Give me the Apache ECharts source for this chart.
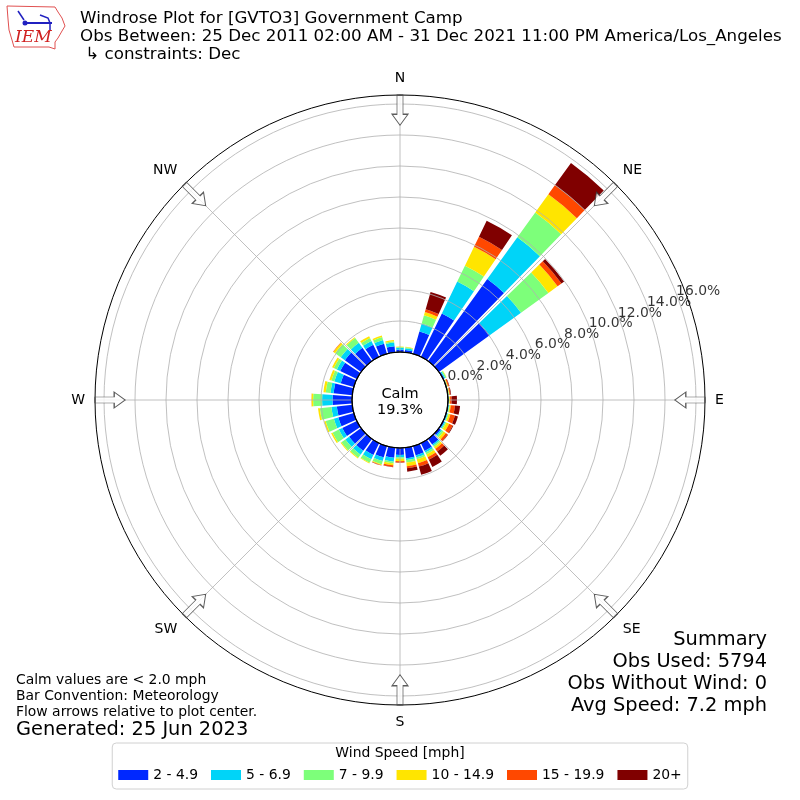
<!DOCTYPE html>
<html>
<head>
<meta charset="utf-8">
<title>Windrose GVTO3</title>
<script src="https://cdn.jsdelivr.net/npm/echarts@6/dist/echarts.min.js"></script>
<style>
  html, body { margin: 0; padding: 0; background: #fff; }
  #chart { width: 800px; height: 800px; }
</style>
</head>
<body>
<div id="chart"></div>
<script>
// direction bins (degrees, centre of each 10 deg sector)
const DIRECTIONS = ['0', '10', '20', '30', '40', '50', '60', '70', '80', '90', '100', '110',
  '120', '130', '140', '150', '160', '170', '180', '190', '200', '210', '220', '230',
  '240', '250', '260', '270', '280', '290', '300', '310', '320', '330', '340', '350'];

const SPEED_BINS = ['2 - 4.9', '5 - 6.9', '7 - 9.9', '10 - 14.9', '15 - 19.9', '20+'];
const SPEED_COLORS = ['#0028ff', '#00d4f8', '#7dff7a', '#ffe500', '#ff4800', '#800000'];

// frequency [%] per direction for each speed bin
const S_2_5 = [0.15, 0.14, 1.50, 3.11, 6.53, 4.04, 0.08, 0.03, 0.03, 0.03, 0.05, 0.06,
  0.08, 0.15, 0.45, 0.55, 0.62, 0.68, 0.45, 0.65, 0.75, 0.85, 0.95, 0.95,
  1.04, 1.04, 1.00, 1.26, 1.21, 0.88, 1.19, 1.29, 1.05, 0.87, 0.68, 0.39];
const S_5_7 = [0.12, 0.12, 0.54, 2.28, 3.32, 2.49, 0.07, 0.02, 0.02, 0.03, 0.04, 0.05,
  0.07, 0.10, 0.10, 0.12, 0.13, 0.12, 0.15, 0.25, 0.25, 0.30, 0.30, 0.30,
  0.25, 0.30, 0.35, 0.67, 0.20, 0.42, 0.24, 0.33, 0.40, 0.27, 0.25, 0.24];
const S_7_10 = [0.05, 0.06, 0.54, 1.14, 1.97, 2.18, 0.08, 0.03, 0.03, 0.03, 0.04, 0.06,
  0.08, 0.12, 0.10, 0.13, 0.13, 0.16, 0.10, 0.12, 0.22, 0.25, 0.25, 0.32,
  0.45, 0.55, 0.75, 0.58, 0.31, 0.20, 0.22, 0.45, 0.39, 0.21, 0.19, 0.09];
const S_10_15 = [0.03, 0.03, 0.22, 1.35, 1.45, 0.73, 0.02, 0.04, 0.04, 0.05, 0.07, 0.12,
  0.20, 0.18, 0.15, 0.20, 0.27, 0.24, 0.15, 0.12, 0.05, 0.05, 0.05, 0.06,
  0.10, 0.10, 0.12, 0.10, 0.15, 0.14, 0.12, 0.13, 0.06, 0.13, 0.10, 0.08];
const S_15_20 = [0, 0, 0.19, 0.73, 0.73, 0.31, 0, 0.07, 0.06, 0.10, 0.27, 0.30,
  0.25, 0.15, 0.20, 0.18, 0.22, 0.13, 0.08, 0.10, 0.02, 0, 0, 0,
  0, 0, 0, 0.01, 0, 0, 0, 0.03, 0, 0, 0, 0];
const S_20 = [0, 0, 1.16, 1.14, 1.76, 0.21, 0, 0.03, 0.04, 0.34, 0.33, 0.20,
  0.05, 0.03, 0.34, 0.52, 0.55, 0.22, 0.02, 0.03, 0.01, 0, 0, 0,
  0, 0, 0, 0, 0, 0, 0, 0, 0, 0, 0, 0];
const SPEED_DATA = [S_2_5, S_5_7, S_7_10, S_10_15, S_15_20, S_20];

const CALM = 19.3;
const RADIUS_TICKS = [0, 2, 4, 6, 8, 10, 12, 14, 16];
const RADIUS_MAX = 16;
const OUTER_MAX = 16.58;          // outer frame of the axes
const COMPASS = ['N', 'NE', 'E', 'SE', 'S', 'SW', 'W', 'NW'];
const ARROW_ANGLES = [0, 45, 90, 135, 180, 225, 270, 315];

const TITLE_LINES = [
  'Windrose Plot for [GVTO3] Government Camp',
  'Obs Between: 25 Dec 2011 02:00 AM - 31 Dec 2021 11:00 PM America/Los_Angeles',
  ' \u21b3 constraints: Dec'
];
const NOTE_LINES = [
  'Calm values are < 2.0 mph',
  'Bar Convention: Meteorology',
  'Flow arrows relative to plot center.'
];
const GENERATED = 'Generated: 25 Jun 2023';
const SUMMARY_LINES = ['Summary', 'Obs Used: 5794', 'Obs Without Wind: 0', 'Avg Speed: 7.2 mph'];

const FONT = 'DejaVu Sans';
const GRID_COLOR = '#b0b0b0';

let chart = echarts.init(document.getElementById('chart'));

let barSeries = SPEED_BINS.map(function(name, i) {
  return {
    name: name,
    type: 'bar',
    coordinateSystem: 'polar',
    polarIndex: 0,
    stack: 'wind',
    barCategoryGap: '16%',
    data: SPEED_DATA[i],
    itemStyle: { color: SPEED_COLORS[i] },
    silent: true,
    z: 2
  };
});

let option = {
  animation: false,
  textStyle: { fontFamily: FONT, color: '#000' },
  polar: [
    { center: ['50%', '50%'], radius: [48, 296] },   // bars
    { center: ['50%', '50%'], radius: [48, 296] },   // circles + r labels
    { center: ['50%', '50%'], radius: [48, 305] },   // spokes, frame, arrows
    { center: ['50%', '50%'], radius: [0, 48] }      // calm circle
  ],
  angleAxis: [{
      polarIndex: 0,
      type: 'category',
      data: DIRECTIONS,
      startAngle: 95,
      clockwise: true,
      show: false
    },
    {
      polarIndex: 1,
      type: 'value',
      min: 0,
      max: 360,
      startAngle: 90,
      clockwise: true,
      show: false
    },
    {
      polarIndex: 2,
      type: 'value',
      min: 0,
      max: 360,
      interval: 45,
      startAngle: 90,
      clockwise: true,
      z: 10,
      axisLine: { lineStyle: { color: '#000', width: 1 } },
      axisTick: { show: false },
      axisLabel: {
        margin: 10,
        fontSize: 14,
        color: '#000',
        fontFamily: FONT,
        formatter: function(v) {
          return COMPASS[Math.round(v / 45) % 8];
        }
      },
      splitLine: { show: true, lineStyle: { color: GRID_COLOR, width: 0.8 } }
    },
    {
      polarIndex: 3,
      type: 'value',
      min: 0,
      max: 360,
      z: 11,
      axisLine: { lineStyle: { color: '#000', width: 1.2 } },
      axisTick: { show: false },
      axisLabel: { show: false },
      splitLine: { show: false }
    }
  ],
  radiusAxis: [{
      polarIndex: 0,
      min: 0,
      max: RADIUS_MAX,
      show: false
    },
    {
      polarIndex: 1,
      min: 0,
      max: RADIUS_MAX,
      interval: 2,
      z: 10,
      axisLine: { show: false },
      axisTick: { show: false },
      axisLabel: { show: false },
      splitLine: { show: true, lineStyle: { color: GRID_COLOR, width: 0.8 } }
    },
    {
      polarIndex: 2,
      min: 0,
      max: OUTER_MAX,
      show: false
    },
    {
      polarIndex: 3,
      min: 0,
      max: 1,
      show: false
    }
  ],
  legend: {
    data: SPEED_BINS,
    left: 'center',
    top: 743,
    icon: 'rect',
    itemWidth: 30,
    itemHeight: 10,
    itemGap: 13,
    padding: [25, 6, 7, 6],
    borderColor: '#d0d0d0',
    borderWidth: 1,
    borderRadius: 4,
    selectedMode: false,
    textStyle: { fontSize: 13.9, color: '#000', fontFamily: FONT }
  },
  series: barSeries.concat([{
      // r tick labels
      type: 'scatter',
      coordinateSystem: 'polar',
      polarIndex: 1,
      data: RADIUS_TICKS.map(function(v) { return [v, 70]; }),
      symbolSize: 1,
      itemStyle: { color: 'rgba(0,0,0,0)' },
      silent: true,
      z: 12,
      label: {
        show: true,
        position: 'inside',
        offset: [20, -7],
        fontSize: 13.9,
        color: '#000',
        fontFamily: FONT,
        formatter: function(p) {
          return p.value[0].toFixed(1) + '%';
        }
      }
    },
    {
      // flow arrows
      type: 'scatter',
      coordinateSystem: 'polar',
      polarIndex: 2,
      data: ARROW_ANGLES.map(function(a) { return [15.6, a]; }),
      symbol: 'path://M-3,0 L3,0 L3,19 L8,19 L0,30 L-8,19 L-3,19 Z',
      symbolSize: [16, 30],
      symbolRotate: function(v) { return -v[1]; },
      itemStyle: { color: '#fff', borderColor: '#333', borderWidth: 1 },
      silent: true,
      z: 20
    }
  ]),
  graphic: [{
      type: 'text',
      left: 80,
      top: 10,
      style: { text: TITLE_LINES.join('\n'), font: '16.7px DejaVu Sans', fill: '#000', lineHeight: 18 }
    },
    {
      type: 'text',
      left: 'center',
      top: 386,
      z: 30,
      style: { text: 'Calm\n' + CALM.toFixed(1) + '%', font: '14.5px DejaVu Sans', fill: '#000', textAlign: 'center', lineHeight: 16 }
    },
    {
      type: 'text',
      left: 16,
      top: 672,
      style: { text: NOTE_LINES.join('\n'), font: '13.9px DejaVu Sans', fill: '#000', lineHeight: 16 }
    },
    {
      type: 'text',
      left: 16,
      top: 719,
      style: { text: GENERATED, font: '19.4px DejaVu Sans', fill: '#000', lineHeight: 22 }
    },
    {
      type: 'text',
      right: 33,
      top: 629,
      style: { text: SUMMARY_LINES.join('\n'), font: '19.4px DejaVu Sans', fill: '#000', textAlign: 'right', lineHeight: 22 }
    },
    {
      type: 'text',
      left: 'center',
      top: 746,
      z: 30,
      style: { text: 'Wind Speed [mph]', font: '13.9px DejaVu Sans', fill: '#000', textAlign: 'center' }
    },
    // IEM logo
    {
      type: 'polyline',
      shape: {
        points: [[7, 6], [55, 7], [58, 12], [62, 18], [65, 26], [62, 31], [58, 38], [55, 42],
          [55, 49], [49, 47], [14, 47], [12, 40], [9, 30], [8, 19], [7, 6]]
      },
      style: { stroke: '#e05050', lineWidth: 1, fill: 'none' }
    },
    {
      type: 'polyline',
      shape: { points: [[23, 23], [52, 23]] },
      style: { stroke: '#2020c0', lineWidth: 2 }
    },
    {
      type: 'polyline',
      shape: { points: [[18, 11], [24, 20]] },
      style: { stroke: '#2020c0', lineWidth: 1.5 }
    },
    {
      type: 'polyline',
      shape: { points: [[40, 15], [48, 18], [50, 23], [50, 30]] },
      style: { stroke: '#2020c0', lineWidth: 1.5 }
    },
    {
      type: 'circle',
      shape: { cx: 25, cy: 23, r: 2.5 },
      style: { fill: '#2020c0' }
    },
    {
      type: 'text',
      left: 15,
      top: 29,
      style: { text: 'IEM', font: 'italic 17px DejaVu Serif', fill: '#d02020' }
    }
  ]
};

if (option && typeof option === 'object') {
  chart.setOption(option);
}
</script>
</body>
</html>
